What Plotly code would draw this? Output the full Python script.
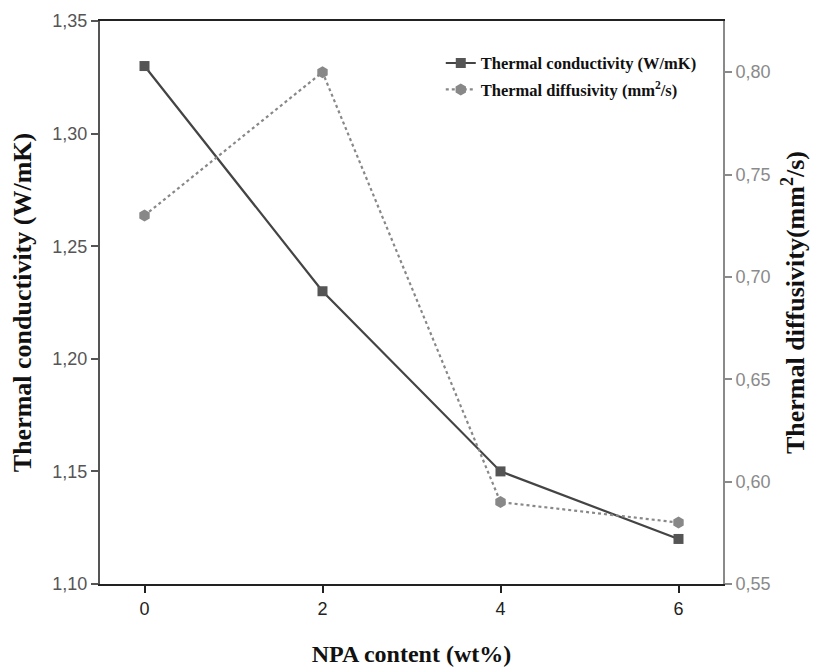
import plotly.graph_objects as go

npa = [0, 2, 4, 6]
conductivity = [1.33, 1.23, 1.15, 1.12]
diffusivity = [0.73, 0.80, 0.59, 0.58]
left_ticks = [1.10, 1.15, 1.20, 1.25, 1.30, 1.35]
left_labels = ["1,10", "1,15", "1,20", "1,25", "1,30", "1,35"]
right_ticks = [0.55, 0.60, 0.65, 0.70, 0.75, 0.80]
right_labels = ["0,55", "0,60", "0,65", "0,70", "0,75", "0,80"]

fig = go.Figure()
fig.add_trace(go.Scatter(
    x=npa, y=conductivity, name="<b>Thermal conductivity (W/mK)</b>",
    mode="lines+markers", legendgroup="a",
    line=dict(color="#444444", width=2.2),
    marker=dict(symbol="square", size=10, color="#555555"),
))
fig.add_trace(go.Scatter(
    x=npa, y=diffusivity, name="<b>Thermal diffusivity (mm<sup>2</sup>/s)</b>",
    mode="lines+markers", yaxis="y2", legendgroup="b",
    line=dict(color="#888888", width=2.2, dash="dot"),
    marker=dict(symbol="hexagon", size=12, color="#888888"),
))

fig.update_layout(
    width=811, height=664,
    margin=dict(l=92, r=96, t=13, b=88),
    paper_bgcolor="white", plot_bgcolor="white",
    showlegend=True,
    legend=dict(x=0.547, y=0.956, xanchor="left", yanchor="top",
                font=dict(family="Liberation Serif", size=16.5, color="#111111"),
                bgcolor="rgba(0,0,0,0)", traceorder="grouped", tracegroupgap=2,
                itemwidth=30),
    xaxis=dict(
        range=[-0.5, 6.5], tickvals=npa, ticktext=[str(v) for v in npa],
        showgrid=False, zeroline=False, automargin=False,
        showline=True, linecolor="#222222", linewidth=2, mirror=True,
        ticks="outside", ticklen=7, tickcolor="#222222", tickwidth=1.5,
        tickfont=dict(family="Liberation Sans", size=18, color="#222222"),
        title=dict(text="<b>NPA content (wt%)</b>", standoff=28,
                   font=dict(family="Liberation Serif", size=24, color="#111111")),
    ),
    yaxis=dict(
        range=[1.10, 1.35], tickvals=left_ticks, ticktext=left_labels,
        showgrid=False, zeroline=False, automargin=False,
        showline=True, linecolor="#555555", linewidth=2,
        ticks="outside", ticklen=7, tickcolor="#555555", tickwidth=1.5,
        tickfont=dict(family="Liberation Sans", size=18, color="#555555"),
        title=dict(text="<b>Thermal conductivity (W/mK)</b>", standoff=22,
                   font=dict(family="Liberation Serif", size=26, color="#111111")),
    ),
    yaxis2=dict(
        range=[0.55, 0.825], tickvals=right_ticks, ticktext=right_labels,
        overlaying="y", side="right", automargin=False,
        showgrid=False, zeroline=False,
        showline=True, linecolor="#8a8a8a", linewidth=2,
        ticks="outside", ticklen=7, tickcolor="#8a8a8a", tickwidth=1.5,
        tickfont=dict(family="Liberation Sans", size=18, color="#8a8a8a"),
        title=dict(text="<b>Thermal diffusivity(mm<sup>2</sup>/s)</b>", standoff=16,
                   font=dict(family="Liberation Serif", size=26, color="#111111")),
    ),
)

fig.write_html("out.html")
